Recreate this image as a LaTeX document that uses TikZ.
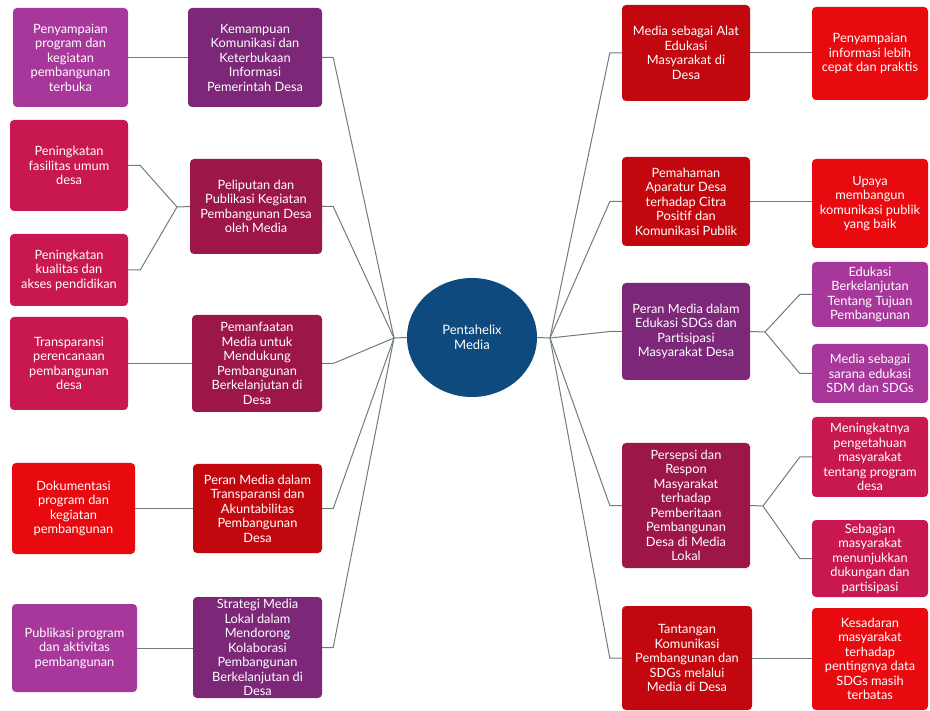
\documentclass[tikz,border=0pt]{standalone}
\usepackage{fontspec}
\setmainfont{Lato}
\usetikzlibrary{shapes.geometric}

% box colours
\definecolor{purpleA}{HTML}{A8379C}
\definecolor{purpleB}{HTML}{7C2778}
\definecolor{crimsonA}{HTML}{C8184F}
\definecolor{crimsonB}{HTML}{9C1747}
\definecolor{redA}{HTML}{E80A0F}
\definecolor{redB}{HTML}{C2080E}
\definecolor{hubblue}{HTML}{0E4A7E}
\definecolor{wire}{HTML}{6F7C7C}

\tikzset{
  card/.style={rectangle, rounded corners=4pt, text=white, align=center,
    inner sep=0pt, font=\fontsize{12.8}{14.5}\selectfont},
  cardA/.style={card, fill=#1},
  link/.style={draw=wire, line width=1pt},
}

\newcommand{\cardbox}[7]{% name, x, y, w, h, colour, text
  \node[cardA=#6, minimum width=#4pt, minimum height=#5pt] (#1) at (#2,#3) {#7};}

\begin{document}
\begin{tikzpicture}[x=1pt,y=-1pt]
\useasboundingbox (0,0) rectangle (930,711);

% centre
\node[ellipse, fill=hubblue, minimum width=130pt, minimum height=119pt,
  text=white, align=center, font=\fontsize{13}{15}\selectfont] (hub) at (472,337.5)
  {Pentahelix\\Media};

% left, outer column
\cardbox{lo1}{70.5}{57.5}{115}{99}{purpleA}{Penyampaian\\program dan\\kegiatan\\pembangunan\\terbuka}
\cardbox{lo2}{69}{165.5}{118}{91}{crimsonA}{Peningkatan\\fasilitas umum\\desa}
\cardbox{lo3}{69}{270}{118}{72}{crimsonA}{Peningkatan\\kualitas dan\\akses pendidikan}
\cardbox{lo4}{69}{363.5}{118}{93}{crimsonA}{Transparansi\\perencanaan\\pembangunan\\desa}
\cardbox{lo5}{73.5}{508.5}{123}{91}{redA}{Dokumentasi\\program dan\\kegiatan\\pembangunan}
\cardbox{lo6}{74.5}{648}{125}{88}{purpleA}{Publikasi program\\dan aktivitas\\pembangunan}

% left, inner column
\cardbox{li1}{255}{57.5}{134}{99}{purpleB}{Kemampuan\\Komunikasi dan\\Keterbukaan\\Informasi\\Pemerintah Desa}
\cardbox{li2}{256}{206.5}{132}{95}{crimsonB}{Peliputan dan\\Publikasi Kegiatan\\Pembangunan Desa\\oleh Media}
\cardbox{li3}{257}{363.5}{130}{97}{crimsonB}{Pemanfaatan\\Media untuk\\Mendukung\\Pembangunan\\Berkelanjutan di\\Desa}
\cardbox{li4}{257.5}{508.5}{129}{89}{redB}{Peran Media dalam\\Transparansi dan\\Akuntabilitas\\Pembangunan\\Desa}
\cardbox{li5}{257.5}{647.5}{129}{101}{purpleB}{Strategi Media\\Lokal dalam\\Mendorong\\Kolaborasi\\Pembangunan\\Berkelanjutan di\\Desa}

% right, inner column
\cardbox{ri1}{686}{53}{128}{96}{redB}{Media sebagai Alat\\Edukasi\\Masyarakat di\\Desa}
\cardbox{ri2}{686}{201.5}{128}{89}{redB}{Pemahaman\\Aparatur Desa\\terhadap Citra\\Positif dan\\Komunikasi Publik}
\cardbox{ri3}{686}{331.5}{128}{97}{purpleB}{Peran Media dalam\\Edukasi SDGs dan\\Partisipasi\\Masyarakat Desa}
\cardbox{ri4}{686}{505.5}{128}{125}{crimsonB}{Persepsi dan\\Respon\\Masyarakat\\terhadap\\Pemberitaan\\Pembangunan\\Desa di Media\\Lokal}
\cardbox{ri5}{687}{658}{130}{104}{redB}{Tantangan\\Komunikasi\\Pembangunan dan\\SDGs melalui\\Media di Desa}

% right, outer column
\cardbox{ro1}{870}{53.5}{116}{93}{redA}{Penyampaian\\informasi lebih\\cepat dan praktis}
\cardbox{ro2}{870}{203.5}{116}{89}{redA}{Upaya\\membangun\\komunikasi publik\\yang baik}
\cardbox{ro3}{870}{294.5}{116}{65}{purpleA}{Edukasi\\Berkelanjutan\\Tentang Tujuan\\Pembangunan}
\cardbox{ro4}{870}{373.5}{116}{59}{purpleA}{Media sebagai\\sarana edukasi\\SDM dan SDGs}
\cardbox{ro5}{870}{457}{116}{80}{crimsonA}{Meningkatnya\\pengetahuan\\masyarakat\\tentang program\\desa}
\cardbox{ro6}{870}{558.5}{116}{77}{crimsonA}{Sebagian\\masyarakat\\menunjukkan\\dukungan dan\\partisipasi}
\cardbox{ro7}{870}{659}{116}{102}{redA}{Kesadaran\\masyarakat\\terhadap\\pentingnya data\\SDGs masih\\terbatas}

% junction points
\coordinate (hl) at (394,338);
\coordinate (hr) at (550,338);
\coordinate (b2) at (177,207);
\coordinate (b3) at (765,332);
\coordinate (b4) at (763,506);

% hub spokes
\draw[link] (hl) -- (hub.west);
\draw[link] (hub.east) -- (hr);
\foreach \n in {li1,li2,li3,li4,li5}
  \draw[link] (\n.east) -- ++(11,0) -- (hl);
\foreach \n in {ri1,ri2,ri3,ri4,ri5}
  \draw[link] (\n.west) -- ++(-12,0) -- (hr);

% outer to inner, left
\draw[link] (lo1.east) -- (lo1.east -| li1.west);
\draw[link] (lo4.east) -- (lo4.east -| li3.west);
\draw[link] (lo5.east) -- (lo5.east -| li4.west);
\draw[link] (lo6.east) -- (lo6.east -| li5.west);
\draw[link] (li2.west) -- (b2);
\draw[link] (lo2.east) -- ++(12,0) -- (b2);
\draw[link] (lo3.east) -- ++(12,0) -- (b2);

% outer to inner, right
\draw[link] (ri1.east) -- (ri1.east -| ro1.west);
\draw[link] (ri2.east) -- (ri2.east -| ro2.west);
\draw[link] (ri5.east) -- (ri5.east -| ro7.west);
\draw[link] (ri3.east) -- (b3);
\draw[link] (ro3.west) -- ++(-12,0) -- (b3);
\draw[link] (ro4.west) -- ++(-12,0) -- (b3);
\draw[link] (ri4.east) -- (b4);
\draw[link] (ro5.west) -- ++(-12,0) -- (b4);
\draw[link] (ro6.west) -- ++(-12,0) -- (b4);
\end{tikzpicture}
\end{document}
